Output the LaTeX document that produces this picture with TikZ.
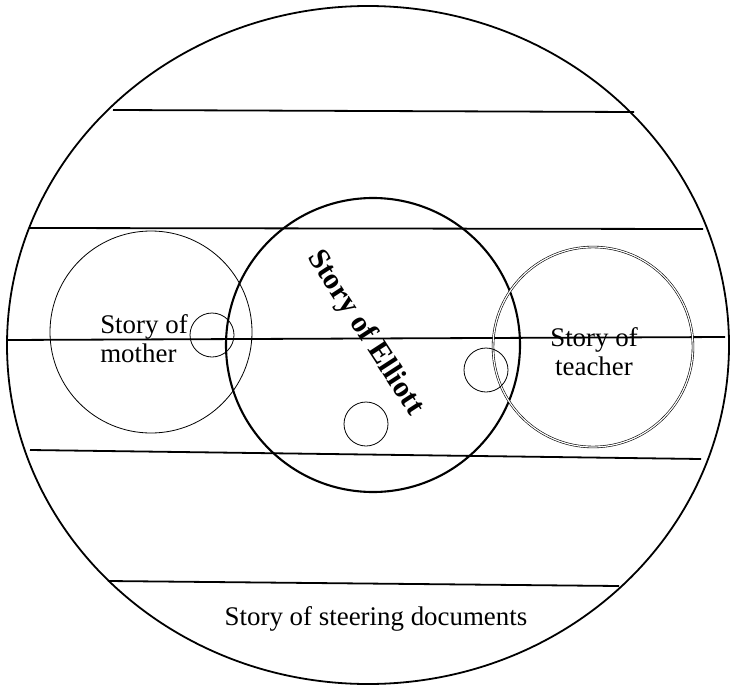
\documentclass[tikz,border=0pt]{standalone}
\usepackage{fontspec}
\setmainfont{Liberation Serif}
\begin{document}
\begin{tikzpicture}[x=1bp,y=-1bp,
  band/.style={line width=1.8bp},
  thin circle/.style={line width=0.8bp},
  label/.style={inner sep=0pt,font=\fontsize{27}{29}\selectfont},
]
\useasboundingbox (0,0) rectangle (732,686);
% outer ellipse
\draw[line width=1.8bp] (368,345) ellipse [x radius=361, y radius=339];
% bands
\coordinate (l1a) at (113,110); \coordinate (l1b) at (634,112);
\coordinate (l2a) at (30,228);  \coordinate (l2b) at (703,229);
\coordinate (l3a) at (7,340);   \coordinate (l3b) at (725,337);
\coordinate (l4a) at (30,450);  \coordinate (l4b) at (701,459);
\coordinate (l5a) at (108,581); \coordinate (l5b) at (619,586);
\draw[band] (l1a) -- (l1b);
\draw[band] (l2a) -- (l2b);
\draw[band] (l3a) -- (l3b);
\draw[band] (l4a) -- (l4b);
\draw[band] (l5a) -- (l5b);
% circles
\draw[thin circle] (151,332) circle [radius=101];
\draw[line width=2.1bp] (373,345) circle [radius=147];
\draw[line width=0.6bp, double, double distance=1.2bp] (593,347) circle [radius=100];
\draw[thin circle] (212,335) circle [radius=22];
\draw[thin circle] (486,370) circle [radius=22];
\draw[thin circle] (366,424) circle [radius=22];
% texts
\node[label, align=left] (mother) at (144,339) {Story of\\mother};
\node[label, align=center] (teacher) at (594,352) {Story of\\teacher};
\node[label, font=\fontsize{30}{32}\selectfont\bfseries, rotate=-57] (elliott) at (365,333) {Story of Elliott};
\node[label, anchor=base] (steering) at (376,625) {Story of steering documents};
\end{tikzpicture}
\end{document}
